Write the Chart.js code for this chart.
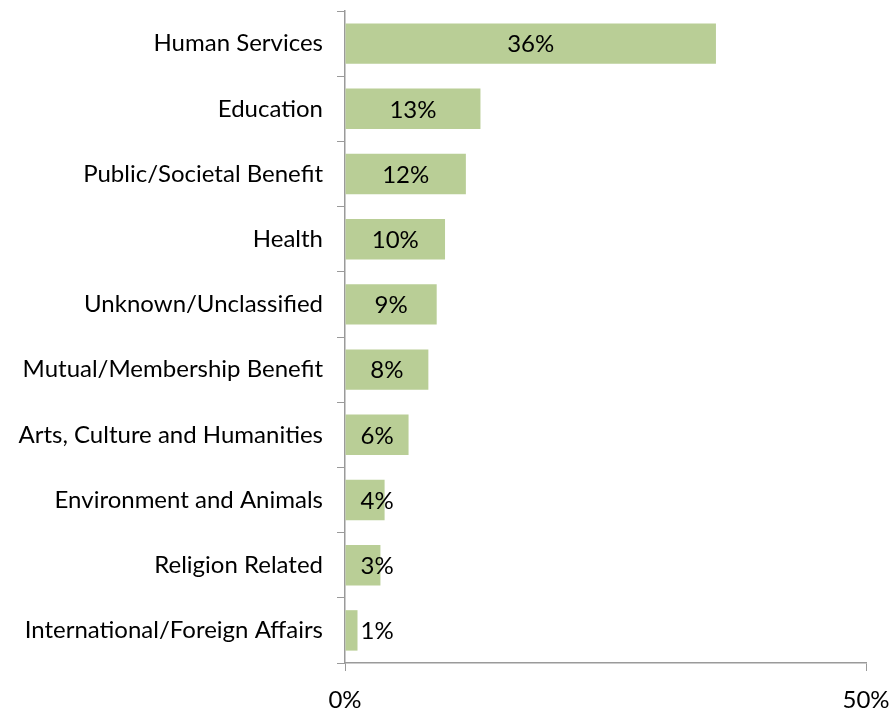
<!DOCTYPE html>
<html>
<head>
<meta charset="utf-8">
<script src="https://cdn.jsdelivr.net/npm/chart.js@4"></script>
<style>
  html, body { margin: 0; padding: 0; background: #fff; }
  #wrap { width: 890px; height: 708px; position: relative; }
</style>
</head>
<body>
<div id="wrap"><canvas id="chart"></canvas></div>
<script>
const categories = [
  'Human Services',
  'Education',
  'Public/Societal Benefit',
  'Health',
  'Unknown/Unclassified',
  'Mutual/Membership Benefit',
  'Arts, Culture and Humanities',
  'Environment and Animals',
  'Religion Related',
  'International/Foreign Affairs'
];
// share of organizations, percent
const shares = [35.6, 13.0, 11.6, 9.6, 8.8, 8.0, 6.1, 3.8, 3.4, 1.2];
const xTicks = [0, 50];

const FONT = 'Lato, "Open Sans", sans-serif';
const FONT_SIZE = 24;

// draws the rounded percentage on each bar, kept clear of the axis line
const barLabels = {
  id: 'barLabels',
  afterDatasetsDraw(chart) {
    const ctx = chart.ctx;
    const meta = chart.getDatasetMeta(0);
    ctx.save();
    ctx.font = FONT_SIZE + 'px ' + FONT;
    ctx.fillStyle = '#000';
    ctx.textAlign = 'center';
    ctx.textBaseline = 'middle';
    meta.data.forEach((bar, i) => {
      const text = Math.round(shares[i]) + '%';
      const w = ctx.measureText(text).width;
      const cx = Math.max((bar.base + bar.x) / 2, bar.base + 15 + w / 2);
      ctx.fillText(text, cx, bar.y + 1);
    });
    ctx.restore();
  }
};

new Chart(document.getElementById('chart'), {
  type: 'bar',
  data: {
    labels: categories,
    datasets: [{
      data: shares,
      backgroundColor: '#b9ce96',
      borderWidth: 0,
      categoryPercentage: 0.62,
      barPercentage: 1
    }]
  },
  plugins: [barLabels],
  options: {
    indexAxis: 'y',
    responsive: true,
    maintainAspectRatio: false,
    animation: false,
    layout: { padding: { top: 11, right: 24, bottom: 0, left: 0 } },
    plugins: {
      legend: { display: false },
      tooltip: { enabled: false }
    },
    scales: {
      x: {
        min: 0,
        max: 50,
        afterBuildTicks(axis) {
          axis.ticks = xTicks.map(v => ({ value: v }));
        },
        afterFit(axis) {
          axis.height = 45;
          axis.paddingLeft = 0;
          axis.paddingRight = 0;
        },
        grid: {
          drawOnChartArea: false,
          drawTicks: true,
          tickLength: 8,
          color: '#9a9a9a'
        },
        border: { color: '#9a9a9a', width: 1.5 },
        ticks: {
          color: '#000',
          font: { size: FONT_SIZE, family: FONT },
          padding: 15,
          maxRotation: 0,
          callback: v => v + '%'
        }
      },
      y: {
        afterFit(axis) {
          axis.width = 345;
          axis.paddingTop = 0;
          axis.paddingBottom = 0;
        },
        grid: {
          offset: true,
          drawOnChartArea: false,
          drawTicks: true,
          tickLength: 8,
          color: '#9a9a9a'
        },
        border: { color: '#9a9a9a', width: 1.5 },
        ticks: {
          color: '#000',
          font: { size: FONT_SIZE, family: FONT },
          padding: 14
        }
      }
    }
  }
});
</script>
</body>
</html>
